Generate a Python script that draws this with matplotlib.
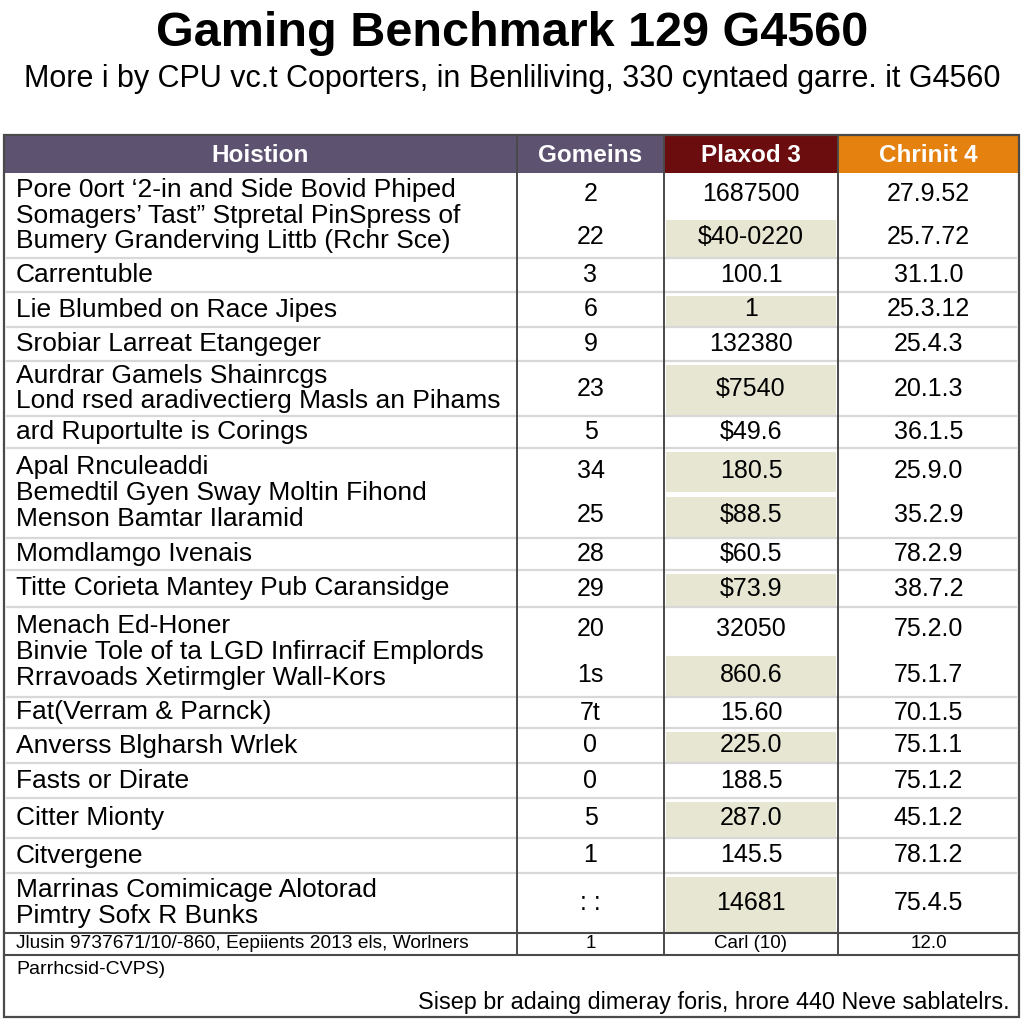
import matplotlib
matplotlib.use('Agg')
import matplotlib.pyplot as plt
from matplotlib.patches import Rectangle

plt.rcParams['font.family'] = ['Liberation Sans', 'DejaVu Sans']

title = 'Gaming Benchmark 129 G4560'
subtitle = 'More i by CPU vc.t Coporters, in Benliliving, 330 cyntaed garre. it G4560'

headers = ['Hoistion', 'Gomeins', 'Plaxod 3', 'Chrinit 4']

names = [
    'Pore 0ort \u20182-in and Side Bovid Phiped\nSomagers\u2019 Tast\u201d Stpretal PinSpress of\nBumery Granderving Littb (Rchr Sce)',
    'Carrentuble',
    'Lie Blumbed on Race Jipes',
    'Srobiar Larreat Etangeger',
    'Aurdrar Gamels Shainrcgs\nLond rsed aradivectierg Masls an Pihams',
    'ard Ruportulte is Corings',
    'Apal Rnculeaddi\nBemedtil Gyen Sway Moltin Fihond\nMenson Bamtar Ilaramid',
    'Momdlamgo Ivenais',
    'Titte Corieta Mantey Pub Caransidge',
    'Menach Ed-Honer\nBinvie Tole of ta LGD Infirracif Emplords\nRrravoads Xetirmgler Wall-Kors',
    'Fat(Verram & Parnck)',
    'Anverss Blgharsh Wrlek',
    'Fasts or Dirate',
    'Citter Mionty',
    'Citvergene',
    'Marrinas Comimicage Alotorad\nPimtry Sofx R Bunks',
]

gomeins = [['2', '22'], ['3'], ['6'], ['9'], ['23'], ['5'], ['34', '25'], ['28'],
           ['29'], ['20', '1s'], ['7t'], ['0'], ['0'], ['5'], ['1'], [': :']]
plaxod = [['1687500', '$40-0220'], ['100.1'], ['1'], ['132380'], ['$7540'], ['$49.6'],
          ['180.5', '$88.5'], ['$60.5'], ['$73.9'], ['32050', '860.6'], ['15.60'],
          ['225.0'], ['188.5'], ['287.0'], ['145.5'], ['14681']]
chrinit = [['27.9.52', '25.7.72'], ['31.1.0'], ['25.3.12'], ['25.4.3'], ['20.1.3'],
           ['36.1.5'], ['25.9.0', '35.2.9'], ['78.2.9'], ['38.7.2'], ['75.2.0', '75.1.7'],
           ['70.1.5'], ['75.1.1'], ['75.1.2'], ['45.1.2'], ['78.1.2'], ['75.4.5']]
shaded = [[False, True], [False], [True], [False], [True], [False], [True, True], [False],
          [True], [False, True], [False], [True], [False], [True], [False], [True]]

footer_row = ['Jlusin 9737671/10/-860, Eepiients 2013 els, Worlners', '1', 'Carl (10)', '12.0']
note_left = 'Parrhcsid-CVPS)'
note_right = 'Sisep br adaing dimeray foris, hrore 440 Neve sablatelrs.'

# layout (pixels)
col_edges = [4, 517, 664, 838, 1019]
header_top, header_h = 135, 38
row_heights = [85, 34, 35, 34, 55, 32, 90, 32, 37, 90, 31, 35, 35, 40, 35, 60]
footer_h = 22
note_h = 62
header_colors = ['#5d5270', '#5d5270', '#6b0c0e', '#e5810f']
shade_color = '#e7e6d3'
grid_color = '#d8d8d8'
border_color = '#4a4a4a'

fig = plt.figure(figsize=(10.24, 10.24), dpi=100)
ax = fig.add_axes([0, 0, 1, 1])
ax.set_xlim(0, 1024)
ax.set_ylim(1024, 0)
ax.axis('off')

ax.text(512, 33, title, ha='center', va='center', fontsize=35, fontweight='bold')
ax.text(512, 79, subtitle, ha='center', va='center', fontsize=22)

# header
for i, h in enumerate(headers):
    x0, x1 = col_edges[i], col_edges[i + 1]
    ax.add_patch(Rectangle((x0, header_top), x1 - x0, header_h, color=header_colors[i], lw=0))
    ax.text((x0 + x1) / 2, header_top + header_h / 2 + 1, h, ha='center', va='center',
            color='white', fontsize=17.5, fontweight='bold')

centers = [(col_edges[i] + col_edges[i + 1]) / 2 for i in range(4)]
y = header_top + header_h
for r, rh in enumerate(row_heights):
    n = len(plaxod[r])
    sub_h = rh / n
    for k in range(n):
        sy = y + k * sub_h
        if shaded[r][k]:
            ax.add_patch(Rectangle((col_edges[2] + 2, sy + 4), col_edges[3] - col_edges[2] - 4,
                                   sub_h - 5, color=shade_color, lw=0))
        cy = sy + sub_h / 2
        for c, vals in zip(centers[1:], [gomeins, plaxod, chrinit]):
            ax.text(c, cy, vals[r][k], ha='center', va='center', fontsize=18)
    ax.text(16, y + rh / 2, names[r], ha='left', va='center', fontsize=19, linespacing=1.1)
    y += rh
    if r < len(row_heights) - 1:
        ax.plot([col_edges[0] + 3, col_edges[-1] - 3], [y, y], color=grid_color, lw=1.6)

body_bottom = y
# footer row
ax.plot([col_edges[0], col_edges[-1]], [body_bottom, body_bottom], color=border_color, lw=1.5)
fy = body_bottom + footer_h / 2
ax.text(16, fy, footer_row[0], ha='left', va='center', fontsize=13.8)
for c, v in zip(centers[1:], footer_row[1:]):
    ax.text(c, fy, v, ha='center', va='center', fontsize=13.5)
table_bottom = body_bottom + footer_h
ax.plot([col_edges[0], col_edges[-1]], [table_bottom, table_bottom], color=border_color, lw=1.5)

# column dividers
for x in col_edges[1:-1]:
    ax.plot([x, x], [header_top, table_bottom], color=border_color, lw=1.4)

# notes box
note_bottom = table_bottom + note_h
ax.text(16, table_bottom + 15, note_left, ha='left', va='center', fontsize=14)
ax.text(1010, table_bottom + 47, note_right, ha='right', va='center', fontsize=16.8)

# outer border
ax.add_patch(Rectangle((col_edges[0], header_top), col_edges[-1] - col_edges[0],
                       note_bottom - header_top, fill=False, edgecolor=border_color, lw=1.6))

fig.savefig('out.png', dpi=100)
